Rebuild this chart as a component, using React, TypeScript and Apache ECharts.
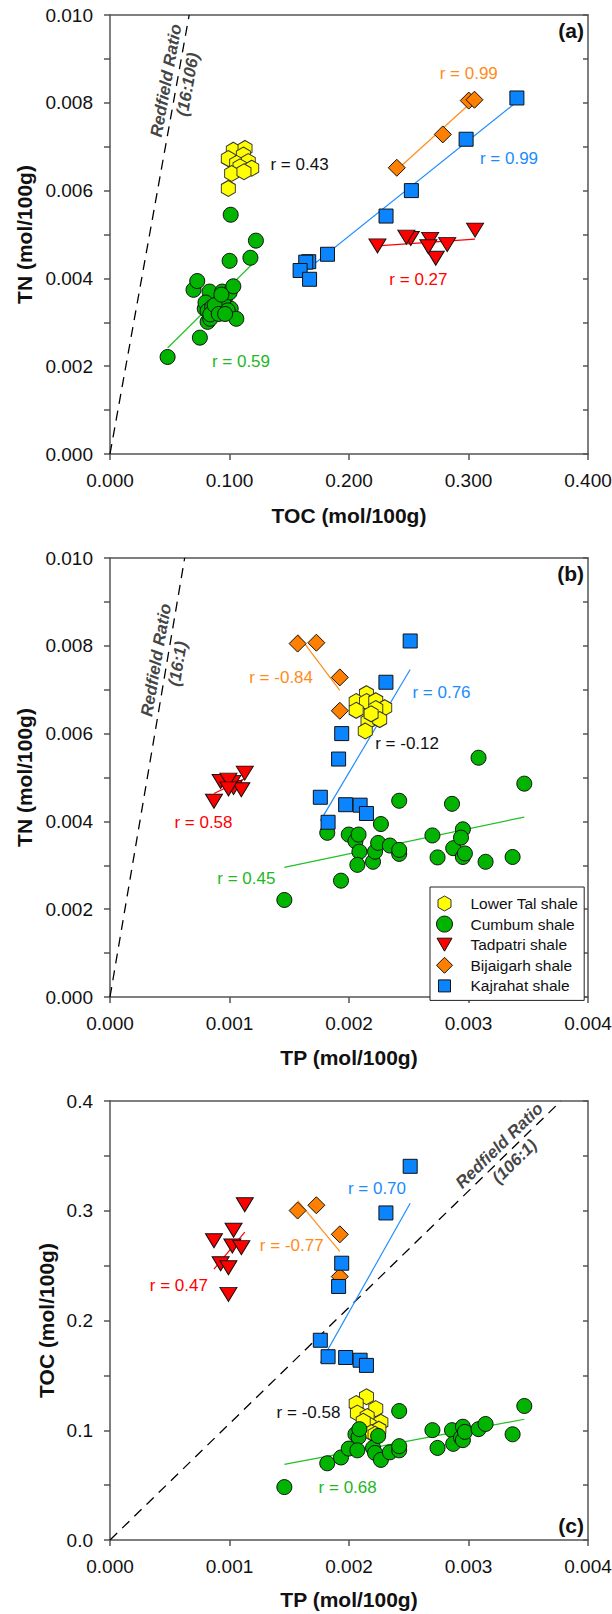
import React, { useEffect, useRef } from 'react';
import * as echarts from 'echarts';

const FONT = '"Liberation Sans", Arial, Helvetica, sans-serif';

// ---------------- data ----------------
const shaleNames = ['Lower Tal shale', 'Cumbum shale', 'Tadpatri shale', 'Bijaigarh shale', 'Kajrahat shale'];

// Kajrahat shale (mol/100g)
const kajTOC = [0.3405, 0.298, 0.2522, 0.231, 0.182, 0.1663, 0.1638, 0.1591, 0.167];
const kajTN = [0.00811, 0.00717, 0.006, 0.00542, 0.00455, 0.00438, 0.00437, 0.00418, 0.00398];
const kajTP = [0.002512, 0.002309, 0.001939, 0.001913, 0.00176, 0.001972, 0.002093, 0.002146, 0.001825];

// Bijaigarh shale
const bijTOC = [0.3002, 0.305, 0.2785, 0.24];
const bijTN = [0.00805, 0.00807, 0.00728, 0.00652];
const bijTP = [0.00157, 0.001727, 0.001923, 0.001923];

// Tadpatri shale
const tadTOC = [0.3055, 0.2822, 0.2726, 0.2679, 0.2664, 0.2517, 0.248, 0.2238];
const tadTN = [0.0051, 0.00477, 0.00446, 0.00489, 0.00472, 0.00491, 0.00494, 0.00474];
const tadTP = [0.001128, 0.001034, 0.00087, 0.001024, 0.001099, 0.000926, 0.000991, 0.000991];

// Cumbum shale
const cumTOC = [0.0482, 0.0699, 0.0752, 0.0833, 0.0963, 0.0939, 0.101, 0.0817, 0.0839, 0.0793, 0.0948, 0.073, 0.0799, 0.0817,
  0.0855, 0.1175, 0.1001, 0.0839, 0.1001, 0.0876, 0.1032, 0.0932, 0.091, 0.0985, 0.101, 0.1057, 0.0963, 0.1221];
const cumTN = [0.00221, 0.00374, 0.00265, 0.0037, 0.00355, 0.0037, 0.00331, 0.00301, 0.00308, 0.00331, 0.00351, 0.00394, 0.00345, 0.00326,
  0.00335, 0.00447, 0.00368, 0.00318, 0.0044, 0.00339, 0.00382, 0.00363, 0.00319, 0.00327, 0.00545, 0.00308, 0.00319, 0.00486];
const cumTP = [0.001459, 0.001818, 0.001933, 0.001998, 0.002054, 0.00208, 0.002087, 0.00207, 0.002201, 0.002218, 0.002244, 0.002267, 0.002342, 0.00242,
  0.00242, 0.00242, 0.002698, 0.002741, 0.002862, 0.002872, 0.002953, 0.002937, 0.002953, 0.00297, 0.003084, 0.003143, 0.003369, 0.003467];

// Lower Tal shale (read per panel)
const ltA_TOC = [0.1032, 0.113, 0.1116, 0.099, 0.106, 0.1157, 0.1088, 0.1186, 0.1018, 0.1121, 0.099];
const ltA_TN = [0.00692, 0.00696, 0.00681, 0.00673, 0.00662, 0.00666, 0.00654, 0.00651, 0.00639, 0.00643, 0.00605];
const ltB_TP = [0.002146, 0.00206, 0.002146, 0.002224, 0.002299, 0.002224, 0.00206, 0.002159, 0.002257, 0.002136, 0.002185];
const ltB_TN = [0.00691, 0.00673, 0.00673, 0.00675, 0.00659, 0.00657, 0.00653, 0.00628, 0.00632, 0.00606, 0.00645];
const ltC_TP = [0.002146, 0.00206, 0.002224, 0.00207, 0.002152, 0.002267, 0.002168, 0.00225, 0.002185, 0.002119, 0.002218];
const ltC_TOC = [0.1305, 0.1243, 0.1197, 0.1156, 0.1125, 0.1072, 0.105, 0.101, 0.0979, 0.1082, 0.0963];

// Redfield ratios (y : x) and label anchor x positions
const redfieldRatios = [16 / 106, 16, 106];
const redfieldTexts = ['(16:106)', '(16:1)', '(106:1)'];
const redfieldLabelX = [0.05606, 0.000477, 0.003322];

// correlation labels [text, shale index, x, y]
const rLabelsA: [string, number, number, number][] = [
  ['r = 0.99', 3, 0.3002, 0.00867],
  ['r = 0.99', 4, 0.3339, 0.00673],
  ['r = 0.43', 0, 0.1586, 0.0066],
  ['r = 0.27', 2, 0.2581, 0.00397],
  ['r = 0.59', 1, 0.1096, 0.0021],
];
const rLabelsB: [string, number, number, number][] = [
  ['r = -0.84', 3, 0.001432, 0.00728],
  ['r = 0.76', 4, 0.002774, 0.00694],
  ['r = -0.12', 0, 0.002486, 0.00578],
  ['r = 0.58', 2, 0.000782, 0.00398],
  ['r = 0.45', 1, 0.001141, 0.0027],
];
const rLabelsC: [string, number, number, number][] = [
  ['r = 0.70', 4, 0.002234, 0.3201],
  ['r = -0.77', 3, 0.001521, 0.2679],
  ['r = 0.47', 2, 0.000576, 0.2315],
  ['r = -0.58', 0, 0.001661, 0.1166],
  ['r = 0.68', 1, 0.001989, 0.0482],
];
const panelLetters = ['(a)', '(b)', '(c)'];

// ---------------- styles ----------------
const HEX = 'path://M8,0 L15,4 L15,12 L8,16 L1,12 L1,4 Z';
const TRI_DOWN_ICON = 'path://M0,0 M16,16 M0.5,1.5 L15.5,1.5 L8,14.5 Z';
const SQUARE_ICON = 'path://M0,0 M16,16 M2,2 L14,2 L14,14 L2,14 Z';
const HEX_ICON = 'path://M0,0 M16,16 M8,0.5 L14.5,4.2 L14.5,11.8 L8,15.5 L1.5,11.8 L1.5,4.2 Z';
const shaleStyle = [
  { symbol: HEX, size: [14, 16], fill: '#FFFF00', border: '#333', line: '', text: '#111', rotate: 0, icon: HEX_ICON },
  { symbol: 'circle', size: 15, fill: '#00B400', border: '#111', line: '#22C022', text: '#22B822', rotate: 0, icon: 'circle' },
  { symbol: 'triangle', size: [17, 14], fill: '#FF0000', border: '#111', line: '#FF0000', text: '#FF0000', rotate: 180, icon: TRI_DOWN_ICON },
  { symbol: 'diamond', size: 17, fill: '#FF8000', border: '#111', line: '#FF8C1A', text: '#FF8C1A', rotate: 0, icon: 'diamond' },
  { symbol: 'rect', size: 14, fill: '#0A84FF', border: '#111', line: '#1E8CFF', text: '#1A8CFF', rotate: 0, icon: SQUARE_ICON },
];

const GRID_LEFT = 110;
const GRID_W = 478;
const GRID_H = 439;
const GRID_TOPS = [15, 558, 1101];
const AXIS_COLOR = '#555';

const panelCfg = [
  { xMax: 0.4, xInt: 0.1, yMax: 0.01, yInt: 0.001, xName: 'TOC (mol/100g)', yName: 'TN (mol/100g)', xGap: 51, yGap: 75,
    yFmt: (v: number) => (Math.round(v * 1000) % 2 === 0 ? v.toFixed(3) : '') },
  { xMax: 0.004, xInt: 0.001, yMax: 0.01, yInt: 0.001, xName: 'TP (mol/100g)', yName: 'TN (mol/100g)', xGap: 50, yGap: 75,
    yFmt: (v: number) => (Math.round(v * 1000) % 2 === 0 ? v.toFixed(3) : '') },
  { xMax: 0.004, xInt: 0.001, yMax: 0.4, yInt: 0.05, xName: 'TP (mol/100g)', yName: 'TOC (mol/100g)', xGap: 49, yGap: 53,
    yFmt: (v: number) => (Math.round(v * 100) % 10 === 0 ? v.toFixed(1) : '') },
];

const zip = (a: number[], b: number[]) => a.map((v, i) => [v, b[i]]);

function panelData(p: number): number[][][] {
  if (p === 0) return [zip(ltA_TOC, ltA_TN), zip(cumTOC, cumTN), zip(tadTOC, tadTN), zip(bijTOC, bijTN), zip(kajTOC, kajTN)];
  if (p === 1) return [zip(ltB_TP, ltB_TN), zip(cumTP, cumTN), zip(tadTP, tadTN), zip(bijTP, bijTN), zip(kajTP, kajTN)];
  return [zip(ltC_TP, ltC_TOC), zip(cumTP, cumTOC), zip(tadTP, tadTOC), zip(bijTP, bijTOC), zip(kajTP, kajTOC)];
}

function fit(pts: number[][]): number[][] {
  const n = pts.length;
  const mx = pts.reduce((s, p) => s + p[0], 0) / n;
  const my = pts.reduce((s, p) => s + p[1], 0) / n;
  let sxy = 0, sxx = 0;
  pts.forEach((p) => { sxy += (p[0] - mx) * (p[1] - my); sxx += (p[0] - mx) ** 2; });
  const b = sxy / sxx;
  const a = my - b * mx;
  const xs = pts.map((p) => p[0]);
  const x0 = Math.min(...xs), x1 = Math.max(...xs);
  return [[x0, a + b * x0], [x1, a + b * x1]];
}

const redfieldEndX = (p: number) => Math.min(panelCfg[p].xMax, panelCfg[p].yMax / redfieldRatios[p]);

function buildOption() {
  const grid: any[] = [];
  const xAxis: any[] = [];
  const yAxis: any[] = [];
  const series: any[] = [];
  const lineStyle = { color: AXIS_COLOR, width: 1.5 };

  panelCfg.forEach((c, p) => {
    grid.push({ left: GRID_LEFT, top: GRID_TOPS[p], width: GRID_W, height: GRID_H, containLabel: false, outerBoundsMode: 'none' });
    xAxis.push({
      gridIndex: p, type: 'value', position: 'bottom', min: 0, max: c.xMax, interval: c.xInt,
      axisLine: { show: true, onZero: false, lineStyle },
      axisTick: { show: true, inside: false, length: 6, lineStyle },
      axisLabel: { fontSize: 19, fontFamily: FONT, color: '#111', margin: 17, formatter: (v: number) => v.toFixed(3) },
      splitLine: { show: false },
      name: c.xName, nameLocation: 'middle', nameGap: c.xGap, nameMoveOverlap: false,
      nameTextStyle: { fontSize: 21, fontWeight: 'bold', fontFamily: FONT, color: '#111' },
    });
    xAxis.push({
      gridIndex: p, type: 'value', position: 'top', min: 0, max: c.xMax, interval: c.xInt,
      axisLine: { show: true, onZero: false, lineStyle },
      axisTick: { show: false }, axisLabel: { show: false }, splitLine: { show: false },
    });
    yAxis.push({
      gridIndex: p, type: 'value', position: 'left', min: 0, max: c.yMax, interval: c.yInt,
      axisLine: { show: true, onZero: false, lineStyle },
      axisTick: { show: true, inside: false, length: 6, lineStyle },
      axisLabel: { fontSize: 19, fontFamily: FONT, color: '#111', margin: 17, formatter: c.yFmt },
      splitLine: { show: false },
      name: c.yName, nameLocation: 'middle', nameGap: c.yGap, nameRotate: 90, nameMoveOverlap: false,
      nameTextStyle: { fontSize: 21, fontWeight: 'bold', fontFamily: FONT, color: '#111' },
    });
    yAxis.push({
      gridIndex: p, type: 'value', position: 'right', min: 0, max: c.yMax, interval: c.yInt,
      axisLine: { show: true, onZero: false, lineStyle },
      axisTick: { show: true, inside: true, length: 5, lineStyle },
      axisLabel: { show: false }, splitLine: { show: false },
    });

    // Redfield line
    const r = redfieldRatios[p];
    const endX = redfieldEndX(p);
    series.push({
      type: 'line', xAxisIndex: 2 * p, yAxisIndex: 2 * p, data: [[0, 0], [endX, endX * r]],
      symbol: 'none', silent: true, z: 1,
      lineStyle: { color: '#000', width: 1.3, type: [10, 7] },
    });
    // Redfield label (invisible anchor point with a rotated two-line label)
    series.push({
      id: 'redfield-label-' + p,
      type: 'scatter', xAxisIndex: 2 * p, yAxisIndex: 2 * p,
      data: [[redfieldLabelX[p], redfieldLabelX[p] * r]],
      symbol: 'circle', symbolSize: 1, silent: true, z: 6,
      itemStyle: { color: 'rgba(0,0,0,0)' },
      label: {
        show: true, position: 'inside', formatter: 'Redfield Ratio\n' + redfieldTexts[p],
        rotate: 0, align: 'center', verticalAlign: 'middle',
        fontSize: 17, fontWeight: 'bold', fontStyle: 'italic', fontFamily: FONT, color: '#111', lineHeight: 22,
      },
      emphasis: { disabled: true },
    });

    const data = panelData(p);
    data.forEach((pts, s) => {
      if (s === 0) return;
      series.push({
        type: 'line', xAxisIndex: 2 * p, yAxisIndex: 2 * p, data: fit(pts),
        symbol: 'none', silent: true, z: 1,
        lineStyle: { color: shaleStyle[s].line, width: 1.2 },
      });
    });
    data.forEach((pts, s) => {
      const st = shaleStyle[s];
      series.push({
        type: 'scatter', name: shaleNames[s], xAxisIndex: 2 * p, yAxisIndex: 2 * p, data: pts,
        symbol: st.symbol, symbolSize: st.size, symbolRotate: st.rotate, z: 3,
        itemStyle: { color: st.fill, borderColor: st.border, borderWidth: 1, opacity: 1 },
        emphasis: { disabled: true },
      });
    });
  });

  return {
    animation: false,
    backgroundColor: '#ffffff',
    textStyle: { fontFamily: FONT },
    grid, xAxis, yAxis, series,
    legend: {
      data: shaleNames.map((name, i) => ({
        name, icon: shaleStyle[i].icon,
        itemStyle: { color: shaleStyle[i].fill, borderColor: shaleStyle[i].border, borderWidth: 1 },
      })),
      symbolRotate: 0,
      orient: 'vertical', left: 430, top: 887,
      itemWidth: 16, itemHeight: 16, itemGap: 3.6,
      padding: [8, 6, 6, 6],
      borderColor: '#222', borderWidth: 1, backgroundColor: '#fff',
      selectedMode: false,
      textStyle: { fontSize: 15.5, fontFamily: FONT, color: '#111', padding: [0, 0, 0, 13] },
      z: 10,
    },
  };
}

function buildExtras(chart: any) {
  const g: any[] = [];
  const px = (p: number, x: number, y: number) =>
    chart.convertToPixel({ xAxisIndex: 2 * p, yAxisIndex: 2 * p }, [x, y]) as number[];

  // rotation of Redfield labels follows the drawn line
  const labelSeries = panelCfg.map((c, p) => {
    const r = redfieldRatios[p];
    const a0 = px(p, 0, 0);
    const endX = redfieldEndX(p);
    const a1 = px(p, endX, endX * r);
    const angle = (Math.atan2(-(a1[1] - a0[1]), a1[0] - a0[0]) * 180) / Math.PI;
    return { id: 'redfield-label-' + p, label: { rotate: angle } };
  });

  const rFont = '17px ' + FONT;
  [rLabelsA, rLabelsB, rLabelsC].forEach((labels, p) => {
    labels.forEach(([text, s, x, y]) => {
      const pt = px(p, x, y);
      g.push({
        type: 'text', x: pt[0], y: pt[1], z: 20,
        style: { text, align: 'center', verticalAlign: 'middle', font: rFont, fill: shaleStyle[s].text },
      });
    });
  });

  const letterFont = 'bold 21px ' + FONT;
  panelCfg.forEach((c, p) => {
    const corner = px(p, c.xMax, p === 2 ? 0 : c.yMax);
    g.push({
      type: 'text', x: corner[0] - 4, y: p === 2 ? corner[1] - 14.5 : corner[1] + 15, z: 20,
      style: { text: panelLetters[p], align: 'right', verticalAlign: 'middle', font: letterFont, fill: '#111' },
    });
  });
  return { series: labelSeries, graphic: g };
}

export default function App() {
  const ref = useRef<HTMLDivElement>(null);
  useEffect(() => {
    if (!ref.current) return;
    const chart = echarts.init(ref.current, undefined, { renderer: 'svg' });
    chart.setOption(buildOption() as any);
    chart.setOption(buildExtras(chart) as any);
    return () => chart.dispose();
  }, []);
  return (
    <div
      ref={ref}
      style={{ position: 'absolute', left: 0, top: 0, width: 612, height: 1614, background: '#fff' }}
    />
  );
}
